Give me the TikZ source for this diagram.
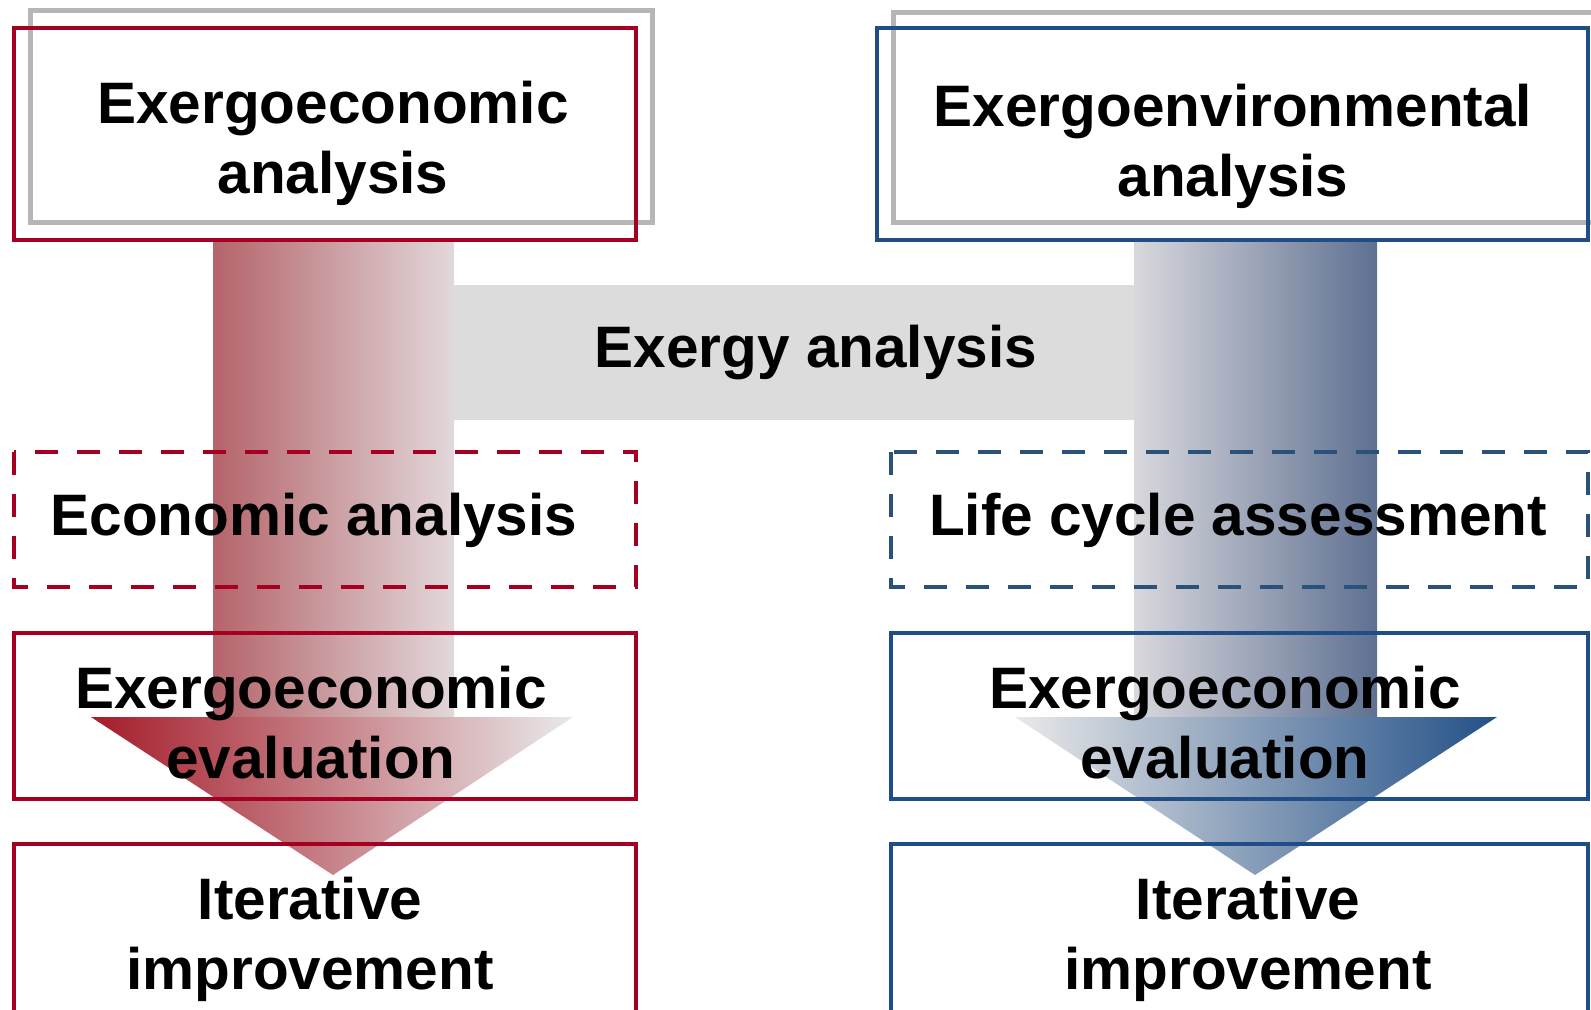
\documentclass[tikz,border=0pt]{standalone}
\usepackage{fontspec}
\setmainfont{Liberation Sans}
\definecolor{ecored}{RGB}{165,0,33}
\definecolor{headred}{RGB}{165,28,42}
\definecolor{shaftred}{RGB}{180,100,106}
\definecolor{shaftpale}{RGB}{226,216,218}
\definecolor{envblue}{RGB}{31,78,134}
\definecolor{headblue}{RGB}{35,80,135}
\definecolor{shaftblue}{RGB}{95,112,145}
\definecolor{shaftmist}{RGB}{216,216,221}
\definecolor{lcablue}{RGB}{40,82,122}
\definecolor{bandgray}{RGB}{220,220,220}
\definecolor{shadowgray}{RGB}{182,182,182}
\definecolor{fadegray}{RGB}{233,233,233}
\begin{document}
\begin{tikzpicture}[x=0.5pt,y=-0.5pt]
				\tikzstyle{every node}+=[inner sep=0pt,align=center,font=\fontsize{29.25}{35}\selectfont\bfseries]
				\tikzstyle{shadowbox}=[shadowgray,line width=2.5pt]
				\tikzstyle{solidbox}=[line width=2.2pt]
				\tikzstyle{dashbox}=[line width=2.2pt,dash pattern=on 11.5pt off 9.5pt]
				\useasboundingbox (0,0) rectangle (1591,1009);
				\clip (0,0) rectangle (1591,1009);
				\fill [white] (0,0) rectangle (1591,1009);
				\fill [bandgray] (454,285) rectangle (1134,420);
				\shade [left color=shaftred,right color=shaftpale] (213,240) rectangle (454,717);
				\shade [left color=headred,right color=fadegray] (91,717) -- (573,717) -- (333,875) -- cycle;
				\shade [left color=shaftmist,right color=shaftblue] (1134,240) rectangle (1377,717);
				\shade [left color=fadegray,right color=headblue] (1015,717) -- (1497,717) -- (1255,875) -- cycle;
				\draw [shadowbox] (30,10) rectangle (652,222);
				\draw [shadowbox] (893,12) rectangle (1610,222);
				\draw [solidbox,ecored] (14,28) rectangle (636,240);
				\draw [solidbox,envblue] (877,28) rectangle (1588,240);
				\draw [dashbox,ecored] (14,452) rectangle (636,587);
				\draw [dashbox,lcablue] (891,452) rectangle (1588,587);
				\draw [solidbox,ecored] (14,633) rectangle (636,799);
				\draw [solidbox,envblue] (891,633) rectangle (1588,799);
				\draw [solidbox,ecored] (14,844) rectangle (636,1040);
				\draw [solidbox,envblue] (891,844) rectangle (1588,1040);
				\draw (333,143) node (ecoanalysis) {Exergoeconomic\\analysis};
				\draw (1233,146) node (envanalysis) {Exergoenvironmental\\analysis};
				\draw (816,352) node (exergy) {Exergy analysis};
				\draw (314,520) node (economic) {Economic analysis};
				\draw (1238,520) node (lca) {Life cycle assessment};
				\draw (311,723) node (ecoeval) {Exergoeconomic\\evaluation};
				\draw (1225,723) node (enveval) {Exergoeconomic\\evaluation};
				\draw (310,939) node (ecoiter) {Iterative\\improvement};
				\draw (1248,939) node (enviter) {Iterative\\improvement};
\end{tikzpicture}
\end{document}
